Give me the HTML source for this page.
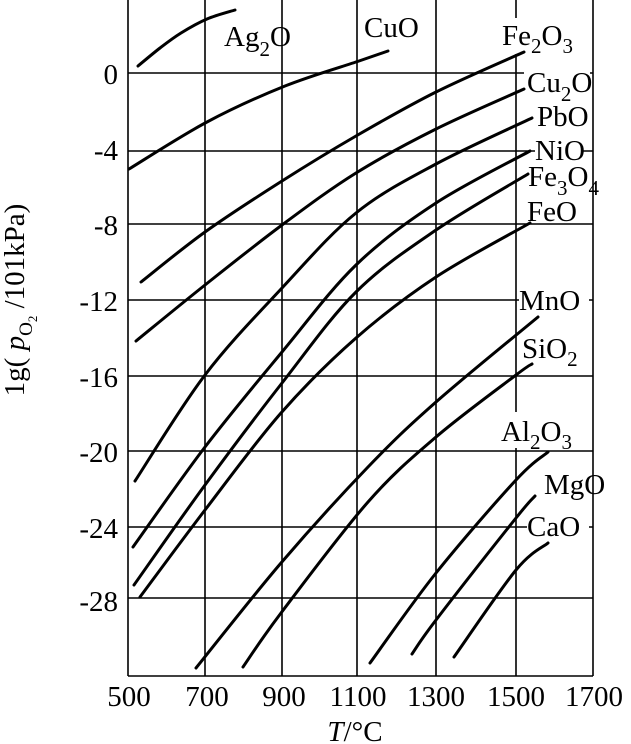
<!DOCTYPE html>
<html><head><meta charset="utf-8">
<style>
html,body{margin:0;padding:0;background:#fff;}
svg{display:block;}
text{font-family:"Liberation Serif","DejaVu Serif",serif;fill:#000;}
.lb{font-size:29px;}
.tk{font-size:29px;}
</style></head>
<body>
<svg id="s" width="631" height="744" viewBox="0 0 631 744" xmlns="http://www.w3.org/2000/svg">
<g stroke="#000" stroke-width="1.6" fill="none">
<line x1="128" y1="0" x2="128" y2="676"/>
<line x1="205" y1="0" x2="205" y2="676"/>
<line x1="282" y1="0" x2="282" y2="676"/>
<line x1="357" y1="0" x2="357" y2="676"/>
<line x1="436" y1="0" x2="436" y2="676"/>
<line x1="516" y1="0" x2="516" y2="676"/>
<line x1="593" y1="0" x2="593" y2="676"/>
<line x1="128" y1="676" x2="593" y2="676"/>
<line x1="128" y1="73" x2="593" y2="73"/>
<line x1="128" y1="151" x2="593" y2="151"/>
<line x1="128" y1="224" x2="593" y2="224"/>
<line x1="128" y1="300" x2="593" y2="300"/>
<line x1="128" y1="376" x2="593" y2="376"/>
<line x1="128" y1="451" x2="593" y2="451"/>
<line x1="128" y1="527" x2="593" y2="527"/>
<line x1="128" y1="598" x2="593" y2="598"/>
</g>
<g fill="#fff">
<rect x="524" y="64" width="66" height="34"/>
<rect x="535" y="134" width="48" height="30"/>
<rect x="519" y="285" width="70" height="30"/>
<rect x="527" y="511" width="62" height="30"/>
<rect x="500" y="18" width="88" height="36"/>
<rect x="526" y="160" width="66" height="38"/>
<rect x="521" y="328" width="68" height="38"/>
<rect x="500" y="412" width="88" height="36"/>
</g>
<g id="curves" stroke="#000" stroke-width="3" fill="none" stroke-linecap="round" stroke-linejoin="round"></g>
<g class="tk" text-anchor="end">
<text x="118" y="84">0</text>
<text x="118" y="160">-4</text>
<text x="118" y="235">-8</text>
<text x="118" y="311">-12</text>
<text x="118" y="387">-16</text>
<text x="118" y="462">-20</text>
<text x="118" y="538">-24</text>
<text x="118" y="611">-28</text>
</g>
<g class="tk" text-anchor="middle">
<text x="129" y="706">500</text>
<text x="207" y="706">700</text>
<text x="284" y="706">900</text>
<text x="358" y="706">1100</text>
<text x="436" y="706">1300</text>
<text x="516" y="706">1500</text>
<text x="594" y="706">1700</text>
<text x="355" y="741"><tspan font-style="italic">T</tspan>/°C</text>
</g>
<text class="tk" transform="translate(24,300) rotate(-90)" text-anchor="middle">1g( <tspan font-style="italic">p</tspan><tspan font-size="19" dy="8">O</tspan><tspan font-size="13" dy="5">2</tspan><tspan dy="-13"> /101kPa)</tspan></text>
<g class="lb">
<text x="224" y="46">Ag<tspan font-size="21" dy="10">2</tspan><tspan dy="-10">O</tspan></text>
<text x="364" y="37">CuO</text>
<text x="502" y="45">Fe<tspan font-size="21" dy="8">2</tspan><tspan dy="-8">O</tspan><tspan font-size="21" dy="8">3</tspan></text>
<text x="527" y="92">Cu<tspan font-size="21" dy="9">2</tspan><tspan dy="-9">O</tspan></text>
<text x="537" y="126">PbO</text>
<text x="535" y="160">NiO</text>
<text x="528" y="186">Fe<tspan font-size="21" dy="9">3</tspan><tspan dy="-9">O</tspan><tspan font-size="21" dy="9">4</tspan></text>
<text x="527" y="221">FeO</text>
<text x="519" y="310">MnO</text>
<text x="522" y="358">SiO<tspan font-size="21" dy="8">2</tspan></text>
<text x="501" y="441">Al<tspan font-size="21" dy="8">2</tspan><tspan dy="-8">O</tspan><tspan font-size="21" dy="8">3</tspan></text>
<text x="544" y="494">MgO</text>
<text x="527" y="536">CaO</text>
</g>
</svg>
<script>
var C=[
[138,66,160,48,181,33,207,19,235,10],
[129,169,207,122,285,86,359,61,388,51],
[141,282,205,232,282,181,356,136,436,92,524,52],
[136,341,205,285,282,225,356,173,436,129,524,89],
[135,481,205,375,282,288,356,213,436,164,532,118],
[133,547,205,447,282,352,356,265,436,203,530,151],
[134,585,205,485,282,383,356,292,436,230,528,174],
[140,597,205,510,281,413,356,338,436,277,530,223],
[196,668,281,563,368,467,436,402,538,317],
[243,667,281,613,368,502,436,437,516,375,532,364],
[370,663,436,573,516,480,548,452],
[412,654,436,620,516,518,535,496],
[454,657,516,570,548,543]
];
var g=document.getElementById('curves'),ns='http://www.w3.org/2000/svg';
C.forEach(function(a){
 var p=[];for(var i=0;i<a.length;i+=2)p.push([a[i],a[i+1]]);
 var d='M'+p[0][0]+','+p[0][1];
 for(var i=0;i<p.length-1;i++){
  var p0=p[i-1]||p[i],p1=p[i],p2=p[i+1],p3=p[i+2]||p[i+1];
  var c1=[p1[0]+(p2[0]-p0[0])/6,p1[1]+(p2[1]-p0[1])/6];
  var c2=[p2[0]-(p3[0]-p1[0])/6,p2[1]-(p3[1]-p1[1])/6];
  d+=' C'+c1[0]+','+c1[1]+' '+c2[0]+','+c2[1]+' '+p2[0]+','+p2[1];
 }
 var e=document.createElementNS(ns,'path');e.setAttribute('d',d);g.appendChild(e);
});
</script>
</body></html>
